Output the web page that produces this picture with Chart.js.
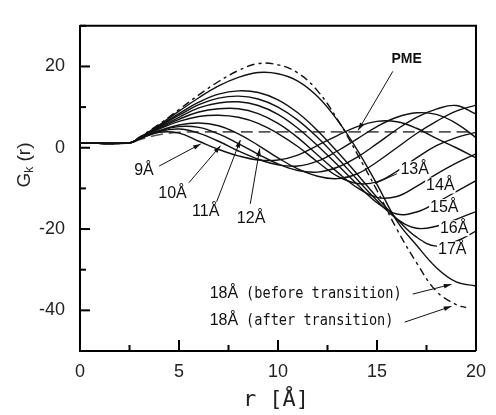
<!DOCTYPE html>
<html>
<head>
<script src="https://cdn.jsdelivr.net/npm/chart.js"></script>
<style>
  body { margin: 0; background: #fff; }
  canvas { display: block; }
</style>
</head>
<body>
<canvas id="chart" width="496" height="415"></canvas>
<script>
// r grid [Angstrom] shared by the cutoff curves
const rGrid = [0, 2.5, 3, 4, 5, 6, 7, 8, 9, 10, 11, 12, 13, 14, 15, 16, 17, 18, 19, 20];

// G_k(r) for each cutoff
const g9  = [1.2, 1.2, 2.2, 3.8, 3.6, 1.6, -0.4, -2.0, -3.0, -3.0, -1.8, 0.6, 3.0, 5.2, 6.5, 6.4, 4.8, 2.3, 0.0, -2.5];
const g10 = [1.2, 1.2, 2.2, 4.0, 4.6, 3.6, 1.6, -0.8, -2.8, -4.2, -4.5, -3.3, -0.8, 2.2, 5.2, 7.5, 8.6, 8.2, 6.0, 2.5];
const g11 = [1.2, 1.2, 2.2, 4.1, 5.2, 5.0, 3.4, 1.0, -1.6, -4.0, -5.6, -6.0, -4.8, -2.3, 1.0, 4.5, 7.5, 9.5, 10.4, 8.3];
const g12 = [1.2, 1.2, 2.2, 4.2, 5.6, 6.1, 5.4, 3.4, 0.6, -2.5, -5.2, -7.0, -7.6, -6.4, -3.5, 0.0, 3.5, 6.5, 9.0, 10.5];
const g13 = [1.2, 1.2, 2.3, 4.6, 6.5, 7.7, 8.0, 7.5, 6.0, 3.5, 0.3, -3.5, -7.0, -8.8, -8.4, -5.8, -2.5, 0.5, 2.5, 3.8];
const g14 = [1.2, 1.2, 2.3, 4.8, 7.0, 8.8, 9.6, 9.6, 8.4, 6.0, 2.5, -1.8, -6.0, -9.8, -12.2, -12.0, -9.5, -6.5, -3.8, -1.5];
const g15 = [1.2, 1.2, 2.3, 5.0, 7.5, 9.8, 11.0, 11.3, 10.4, 8.2, 4.8, 0.5, -4.2, -9.0, -13.5, -16.3, -15.8, -13.5, -10.8, -8.1];
const g16 = [1.2, 1.2, 2.4, 5.2, 8.0, 10.6, 12.2, 12.7, 12.0, 10.0, 6.8, 2.5, -2.5, -7.8, -13.0, -17.5, -19.8, -19.3, -17.6, -15.7];
const g17 = [1.2, 1.2, 2.4, 5.4, 8.4, 11.2, 13.2, 14.0, 13.6, 11.8, 8.6, 4.2, -1.0, -6.5, -12.2, -17.5, -22.0, -24.2, -23.0, -20.5];
const g18before = [1.2, 1.2, 2.5, 5.6, 9.0, 12.3, 15.2, 17.3, 18.5, 18.2, 16.4, 12.6, 6.8, -0.5, -9.0, -18.0, -24.0, -29.5, -33.0, -34.0];

// 18 A after transition (dash-dot), stops before r = 20
const rAfter = [0, 2.5, 3, 4, 5, 6, 7, 8, 9, 10, 11, 12, 13, 14, 15, 16, 17, 18, 19, 19.5];
const g18after = [1.2, 1.2, 2.6, 5.8, 9.4, 13.0, 16.3, 19.0, 20.7, 20.4, 18.4, 14.0, 7.0, -1.5, -10.5, -20.0, -28.3, -35.3, -38.6, -39.3];

// PME reference (dashed)
const rPme = [0, 2.5, 3, 4, 5, 6, 8, 10, 12, 14, 16, 18, 19.7];
const gPme = [1.2, 1.2, 2.0, 3.2, 3.8, 3.9, 3.9, 3.9, 3.9, 3.9, 3.9, 3.9, 3.9];

function pts(xs, ys) {
  return xs.map((x, i) => ({ x: x, y: ys[i] }));
}

const solid = [g9, g10, g11, g12, g13, g14, g15, g16, g17, g18before];
const datasets = solid.map(g => ({
  data: pts(rGrid, g),
  borderColor: '#111',
  borderWidth: 1.4
}));
datasets.push({ data: pts(rAfter, g18after), borderColor: '#111', borderWidth: 1.4, borderDash: [8, 4, 3, 4] });
datasets.push({ data: pts(rPme, gPme), borderColor: '#555', borderWidth: 1.6, borderDash: [12, 6] });

// text labels with optional arrows, in data units
const labels = [
  { t: '9Å',  x: 3.23, y: -5.7,  from: [4.0, -4.5],  to: [6.1, 0.95] },
  { t: '10Å', x: 4.67, y: -11.2, from: [5.5, -8.6],  to: [7.1, 0.5] },
  { t: '11Å', x: 6.35, y: -15.7, from: [6.9, -13.3], to: [8.1, 1.9] },
  { t: '12Å', x: 8.64, y: -17.4, from: [8.6, -13.8], to: [9.08, -0.2] },
  { t: '13Å', x: 16.9, y: -5.3,  from: [16.0, -6.4], to: [14.9, -8.8], plain: true, bg: true },
  { t: '14Å', x: 18.2, y: -9.3,  bg: true },
  { t: '15Å', x: 18.4, y: -14.6, bg: true },
  { t: '16Å', x: 18.9, y: -19.8, bg: true },
  { t: '17Å', x: 18.8, y: -25.0, bg: true }
];
const transitionNotes = [
  { t: '(before transition)', y: -36.0, from: [16.8, -36.0], to: [18.76, -33.6] },
  { t: '(after transition)',  y: -42.6, from: [16.4, -42.9], to: [18.76, -39.0] }
];

function arrow(ctx, x1, y1, x2, y2, head) {
  ctx.beginPath();
  ctx.moveTo(x1, y1);
  ctx.lineTo(x2, y2);
  ctx.stroke();
  if (!head) return;
  const a = Math.atan2(y2 - y1, x2 - x1);
  ctx.beginPath();
  ctx.moveTo(x2, y2);
  ctx.lineTo(x2 - 8 * Math.cos(a - 0.3), y2 - 8 * Math.sin(a - 0.3));
  ctx.lineTo(x2 - 8 * Math.cos(a + 0.3), y2 - 8 * Math.sin(a + 0.3));
  ctx.closePath();
  ctx.fill();
}

const framePlugin = {
  id: 'frame',
  afterDatasetsDraw(chart) {
    const ctx = chart.ctx;
    const a = chart.chartArea;
    const xs = chart.scales.x, ys = chart.scales.y;
    ctx.save();
    ctx.strokeStyle = '#000';
    ctx.lineWidth = 2;
    ctx.beginPath();
    ctx.moveTo(a.left, a.top);
    ctx.lineTo(a.right, a.top);
    ctx.lineTo(a.right, a.bottom);
    ctx.stroke();
    // inward ticks
    xs.ticks.forEach(t => {
      const px = xs.getPixelForValue(t.value);
      const len = t.value % 5 === 0 ? 11 : 6;
      ctx.beginPath();
      ctx.moveTo(px, a.bottom);
      ctx.lineTo(px, a.bottom - len);
      ctx.stroke();
    });
    ys.ticks.forEach(t => {
      const py = ys.getPixelForValue(t.value);
      const len = t.value % 20 === 0 ? 10 : 6;
      ctx.beginPath();
      ctx.moveTo(a.left, py);
      ctx.lineTo(a.left + len, py);
      ctx.stroke();
    });

    // curve labels
    ctx.fillStyle = '#111';
    ctx.strokeStyle = '#111';
    ctx.lineWidth = 1;
    ctx.font = '16px "Liberation Sans", Arial, sans-serif';
    ctx.textAlign = 'center';
    ctx.textBaseline = 'middle';
    labels.forEach(l => {
      const px = xs.getPixelForValue(l.x), py = ys.getPixelForValue(l.y);
      if (l.bg) {
        const w = ctx.measureText(l.t).width;
        ctx.fillStyle = '#fff';
        ctx.fillRect(px - w / 2 - 1, py - 8, w + 2, 16);
        ctx.fillStyle = '#111';
      }
      ctx.fillText(l.t, px, py);
      if (l.from) {
        arrow(ctx, xs.getPixelForValue(l.from[0]), ys.getPixelForValue(l.from[1]),
              xs.getPixelForValue(l.to[0]), ys.getPixelForValue(l.to[1]), !l.plain);
      }
    });

    // PME label
    ctx.font = 'bold 14px "Liberation Sans Narrow", "Liberation Sans", sans-serif';
    ctx.fillText('PME', xs.getPixelForValue(16.5), ys.getPixelForValue(21.7));
    arrow(ctx, xs.getPixelForValue(15.8), ys.getPixelForValue(18.8),
          xs.getPixelForValue(14.05), ys.getPixelForValue(4.3), true);

    // 18 A notes
    transitionNotes.forEach(n => {
      const py = ys.getPixelForValue(n.y);
      ctx.textAlign = 'left';
      ctx.font = '16px "Liberation Sans", Arial, sans-serif';
      ctx.fillText('18Å', xs.getPixelForValue(6.55), py);
      ctx.save();
      ctx.translate(xs.getPixelForValue(8.39), py);
      ctx.scale(0.85, 1);
      ctx.font = '16px "DejaVu Sans Mono", monospace';
      ctx.fillText(n.t, 0, 0);
      ctx.restore();
      arrow(ctx, xs.getPixelForValue(n.from[0]), ys.getPixelForValue(n.from[1]),
            xs.getPixelForValue(n.to[0]), ys.getPixelForValue(n.to[1]), true);
    });

    // axis titles
    ctx.fillStyle = '#222';
    ctx.textAlign = 'center';
    ctx.font = '22px "DejaVu Sans Mono", monospace';
    ctx.fillText('r [Å]', (a.left + a.right) / 2 - 2, 400);

    ctx.translate(23, 165);
    ctx.rotate(-Math.PI / 2);
    ctx.textAlign = 'left';
    ctx.textBaseline = 'alphabetic';
    ctx.font = '19px "Liberation Sans", Arial, sans-serif';
    const gw = ctx.measureText('G').width;
    ctx.font = '12px "Liberation Sans", Arial, sans-serif';
    const kw = ctx.measureText('k').width;
    ctx.font = '19px "Liberation Sans", Arial, sans-serif';
    const rw = ctx.measureText(' (r)').width;
    let x0 = -(gw + kw + rw) / 2;
    ctx.fillText('G', x0, 7);
    ctx.font = '12px "Liberation Sans", Arial, sans-serif';
    ctx.fillText('k', x0 + gw, 10);
    ctx.font = '19px "Liberation Sans", Arial, sans-serif';
    ctx.fillText(' (r)', x0 + gw + kw, 7);
    ctx.restore();
  }
};

new Chart(document.getElementById('chart').getContext('2d'), {
  type: 'line',
  data: { datasets: datasets },
  options: {
    responsive: false,
    animation: false,
    layout: { padding: { top: 15, right: 13, left: 0, bottom: 0 } },
    elements: {
      point: { radius: 0 },
      line: { tension: 0.4, fill: false }
    },
    plugins: { legend: { display: false }, tooltip: { enabled: false } },
    scales: {
      x: {
        type: 'linear', min: 0, max: 20,
        grid: { display: false, drawTicks: false },
        border: { display: true, color: '#000', width: 2 },
        ticks: {
          stepSize: 2.5, autoSkip: false, maxRotation: 0, padding: 10,
          color: '#222', font: { size: 18, family: '"Liberation Sans", Arial, sans-serif' },
          callback: v => (v % 5 === 0 ? String(v) : '')
        },
        afterFit: s => { s.height = 64; }
      },
      y: {
        type: 'linear', min: -50, max: 30,
        grid: { display: false, drawTicks: false },
        border: { display: true, color: '#000', width: 2 },
        ticks: {
          stepSize: 10, autoSkip: false, padding: 15,
          color: '#222', font: { size: 18, family: '"Liberation Sans", Arial, sans-serif' },
          callback: v => (v % 20 === 0 ? String(v) : '')
        },
        afterFit: s => { s.width = 80; }
      }
    }
  },
  plugins: [framePlugin]
});
</script>
</body>
</html>
